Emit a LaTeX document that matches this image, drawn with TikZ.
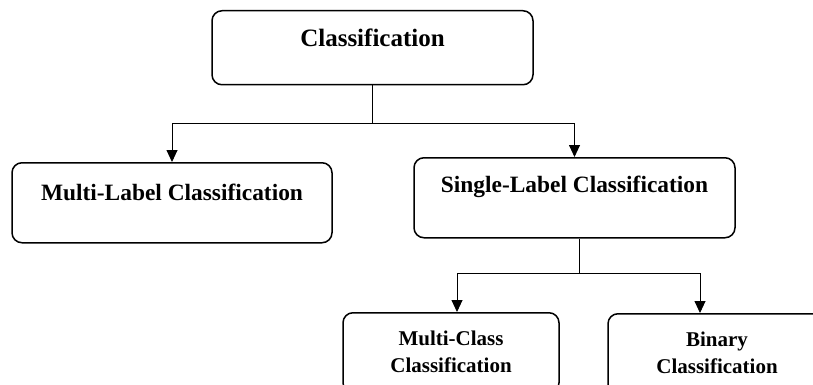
\documentclass[tikz,border=0pt]{standalone}
\usepackage{fontspec}
\setmainfont{Liberation Serif}
\usetikzlibrary{arrows.meta}
\tikzset{
	box/.style = {draw, line width=1.5pt, rounded corners=10pt, anchor=north, inner sep=0pt},
	link/.style = {line width=0.9pt},
	arr/.style = {link, -{Triangle[length=12pt,width=11pt]}}
}
\begin{document}
\begin{tikzpicture} [x = 1pt, y = -1pt]
	\useasboundingbox (0,0) rectangle (813,385);
	% top level
	\node [box, minimum width = 321pt, text height = 35.5pt, text depth = 38.5pt,
		font = \fontsize{25}{30}\selectfont\bfseries] (cls) at (372.5,10) {Classification};
	% second level
	\node [box, minimum width = 320pt, text height = 38pt, text depth = 42pt,
		font = \fontsize{23.4}{28}\selectfont\bfseries] (mlc) at (172,162) {Multi-Label Classification};
	\node [box, minimum width = 321pt, text height = 35pt, text depth = 45pt,
		font = \fontsize{23.4}{28}\selectfont\bfseries] (slc) at (574.5,157) {Single-Label Classification};
	% third level (baseline of a two-line node is its last line)
	\node [box, minimum width = 216pt, text height = 59.5pt, text depth = 20.5pt, align = center,
		font = \fontsize{21}{26.7}\selectfont\bfseries] (mcc) at (451,312) {Multi-Class\\Classification};
	\node [box, minimum width = 218pt, text height = 59.5pt, text depth = 20.5pt, align = center,
		font = \fontsize{21}{26.7}\selectfont\bfseries] (bc) at (717,313) {Binary\\Classification};
	% connectors
	\coordinate (fork1) at (372.5,123);
	\coordinate (fork2) at (579,273);
	\draw [link] (cls.south) -- (fork1);
	\draw [arr] (fork1) -| (mlc.north);
	\draw [arr] (fork1) -| (slc.north);
	\draw [link] ([xshift = 4.5pt]slc.south) -- (fork2);
	\draw [arr] (fork2) -| ([xshift = 6pt]mcc.north);
	\draw [arr] (fork2) -| ([xshift = -17pt]bc.north);
\end{tikzpicture}
\end{document}
